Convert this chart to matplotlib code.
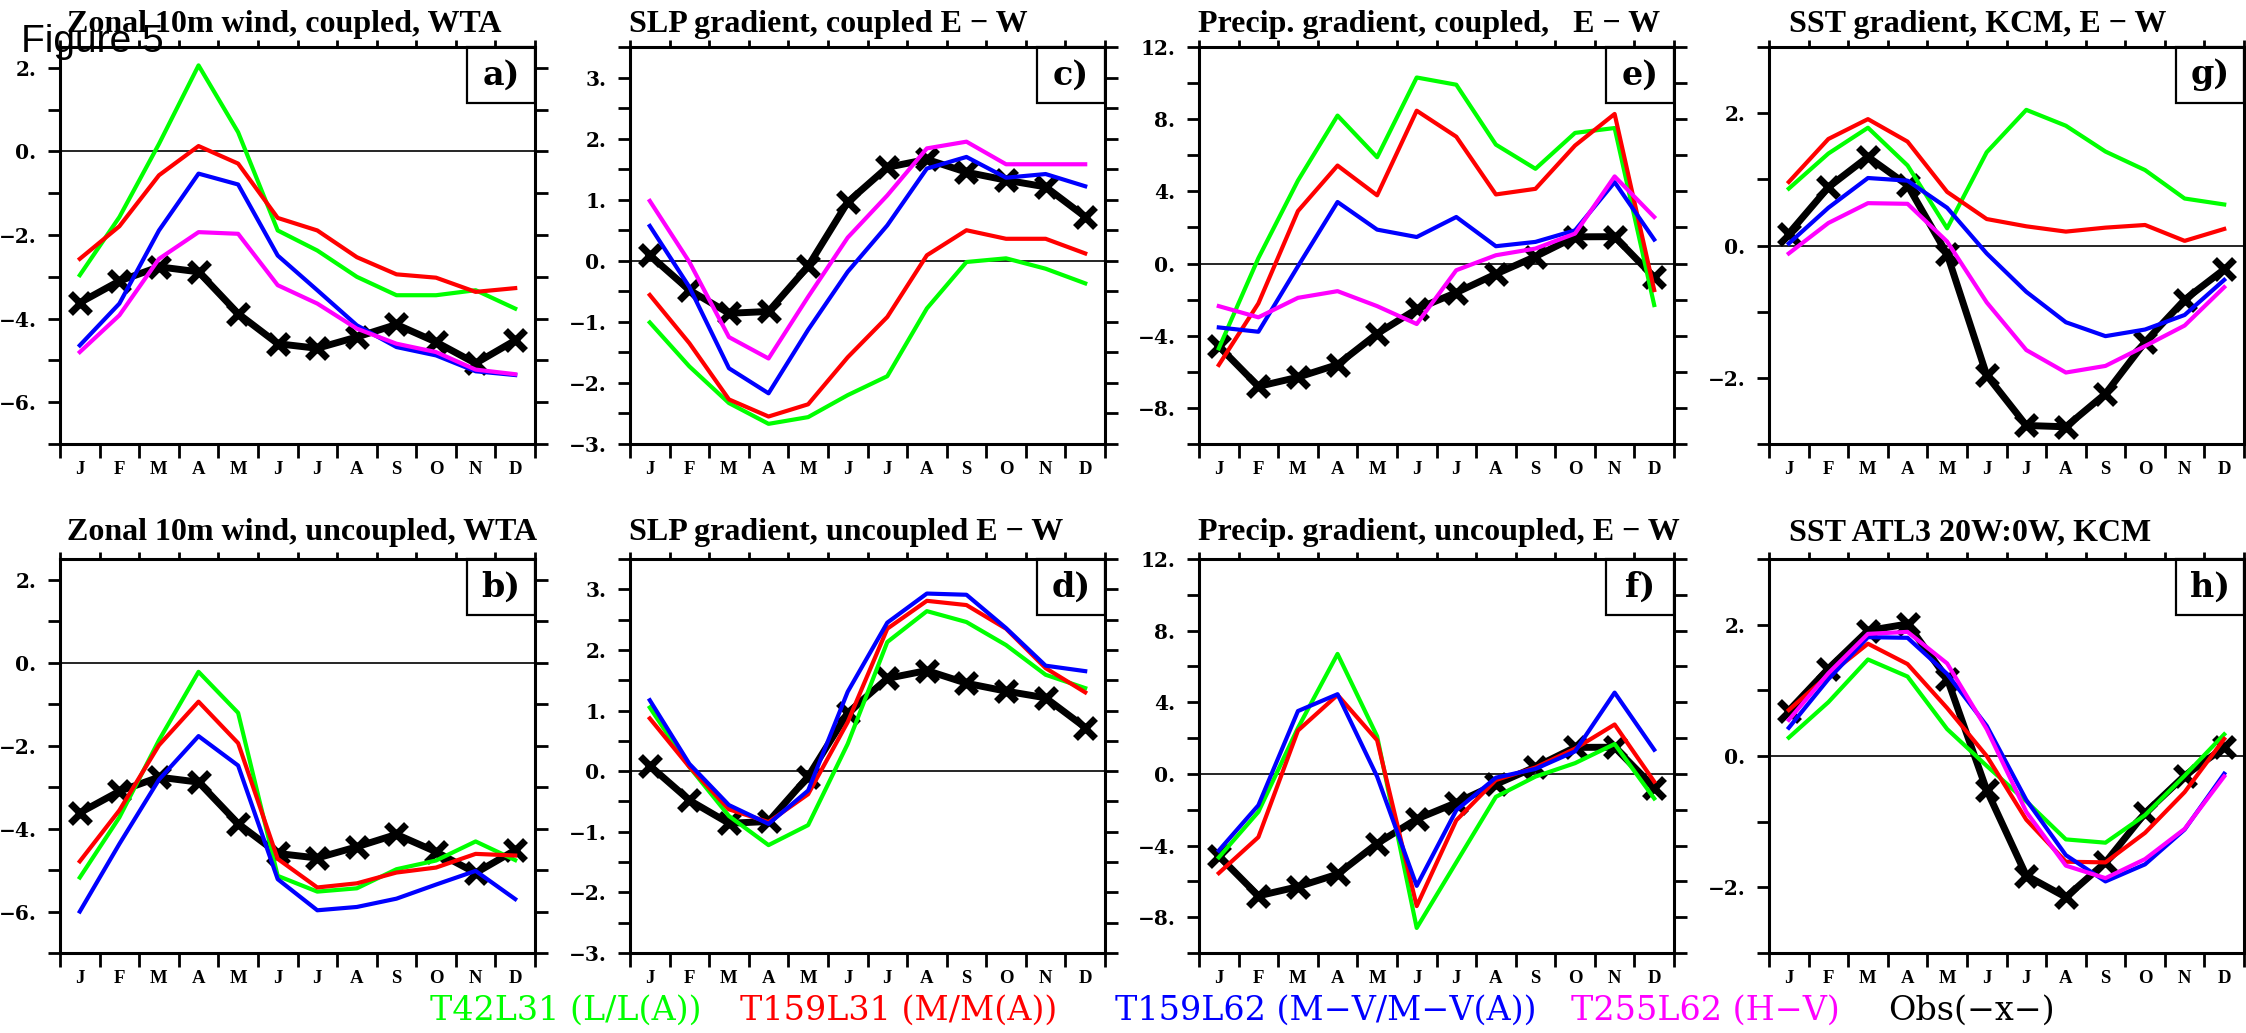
import matplotlib
matplotlib.use("Agg")
import matplotlib.pyplot as plt
import numpy as np
from matplotlib.patches import Rectangle

# === DATA ===
months = ['J', 'F', 'M', 'A', 'M', 'J', 'J', 'A', 'S', 'O', 'N', 'D']

# observations (black, -x-)
obs_wind = [-3.62, -3.10, -2.76, -2.88, -3.88, -4.60, -4.71, -4.44, -4.14, -4.56, -5.07, -4.52]
obs_slp = [0.09, -0.48, -0.86, -0.83, -0.09, 0.96, 1.53, 1.66, 1.45, 1.32, 1.21, 0.72]
obs_precip = [-4.58, -6.81, -6.30, -5.60, -3.89, -2.52, -1.61, -0.58, 0.39, 1.48, 1.49, -0.76]
obs_sst_grad = [0.18, 0.88, 1.34, 0.91, -0.13, -1.96, -2.72, -2.74, -2.24, -1.46, -0.82, -0.36]
obs_atl3 = [0.69, 1.33, 1.91, 2.01, 1.18, -0.52, -1.82, -2.15, -1.62, -0.87, -0.30, 0.13]

# a) zonal 10m wind, coupled
a_green = [-2.96, -1.57, 0.18, 2.06, 0.46, -1.89, -2.37, -3.00, -3.44, -3.44, -3.32, -3.76]
a_red = [-2.57, -1.79, -0.57, 0.13, -0.29, -1.59, -1.89, -2.53, -2.94, -3.02, -3.36, -3.27]
a_blue = [-4.64, -3.64, -1.89, -0.53, -0.79, -2.49, -3.32, -4.16, -4.68, -4.88, -5.26, -5.35]
a_magenta = [-4.80, -3.92, -2.57, -1.93, -1.97, -3.20, -3.64, -4.24, -4.60, -4.80, -5.22, -5.33]

# b) zonal 10m wind, uncoupled
b_green = [-5.18, -3.73, -1.87, -0.22, -1.21, -5.14, -5.52, -5.44, -4.98, -4.77, -4.31, -4.76]
b_red = [-4.79, -3.56, -1.99, -0.94, -1.94, -4.73, -5.42, -5.32, -5.06, -4.94, -4.61, -4.65]
b_blue = [-6.00, -4.37, -2.82, -1.77, -2.48, -5.22, -5.97, -5.89, -5.69, -5.35, -5.02, -5.70]

# c) SLP gradient, coupled
c_green = [-1.01, -1.73, -2.33, -2.67, -2.56, -2.20, -1.89, -0.78, -0.02, 0.04, -0.13, -0.37]
c_red = [-0.56, -1.35, -2.27, -2.55, -2.35, -1.58, -0.92, 0.09, 0.50, 0.36, 0.36, 0.12]
c_blue = [0.57, -0.43, -1.76, -2.17, -1.13, -0.18, 0.58, 1.51, 1.70, 1.36, 1.42, 1.22]
c_magenta = [0.98, -0.02, -1.25, -1.60, -0.59, 0.38, 1.07, 1.84, 1.95, 1.58, 1.58, 1.58]

# d) SLP gradient, uncoupled
d_green = [1.05, 0.07, -0.74, -1.22, -0.89, 0.45, 2.13, 2.64, 2.46, 2.08, 1.59, 1.37]
d_red = [0.87, 0.07, -0.63, -0.84, -0.38, 0.81, 2.35, 2.81, 2.74, 2.35, 1.70, 1.30]
d_blue = [1.17, 0.12, -0.56, -0.87, -0.32, 1.31, 2.45, 2.93, 2.91, 2.36, 1.74, 1.65]

# e) precip gradient, coupled
e_green = [-4.70, 0.30, 4.60, 8.20, 5.89, 10.31, 9.91, 6.59, 5.25, 7.24, 7.51, -2.30]
e_red = [-5.62, -2.21, 2.91, 5.43, 3.78, 8.47, 7.03, 3.83, 4.14, 6.54, 8.29, -1.47]
e_blue = [-3.54, -3.78, -0.15, 3.41, 1.88, 1.47, 2.58, 0.96, 1.20, 1.84, 4.51, 1.33]
e_magenta = [-2.36, -2.98, -1.90, -1.53, -2.36, -3.35, -0.37, 0.46, 0.83, 1.66, 4.83, 2.58]

# f) precip gradient, uncoupled
f_green = [-4.66, -2.12, 2.57, 6.70, 2.10, -8.60, -4.94, -1.28, -0.15, 0.60, 1.67, -1.37]
f_red = [-5.54, -3.53, 2.42, 4.41, 1.88, -7.38, -2.59, -0.34, 0.36, 1.41, 2.76, -0.43]
f_blue = [-4.28, -1.75, 3.51, 4.45, -0.15, -6.25, -2.03, -0.21, 0.28, 1.26, 4.54, 1.35]

# g) SST gradient, KCM
g_green = [0.86, 1.39, 1.78, 1.21, 0.26, 1.41, 2.05, 1.81, 1.42, 1.14, 0.71, 0.62]
g_red = [0.96, 1.61, 1.91, 1.57, 0.81, 0.40, 0.29, 0.21, 0.27, 0.31, 0.07, 0.25]
g_blue = [0.03, 0.57, 1.02, 0.98, 0.57, -0.12, -0.70, -1.16, -1.37, -1.27, -1.05, -0.52]
g_magenta = [-0.12, 0.34, 0.64, 0.63, 0.06, -0.86, -1.58, -1.92, -1.82, -1.52, -1.21, -0.63]

# h) SST ATL3, KCM
h_green = [0.28, 0.82, 1.47, 1.21, 0.41, -0.15, -0.69, -1.27, -1.32, -0.90, -0.30, 0.33]
h_red = [0.70, 1.23, 1.71, 1.40, 0.73, 0.00, -0.97, -1.61, -1.62, -1.17, -0.55, 0.26]
h_blue = [0.43, 1.17, 1.81, 1.80, 1.25, 0.46, -0.67, -1.51, -1.91, -1.65, -1.12, -0.27]
h_magenta = [0.55, 1.26, 1.86, 1.89, 1.41, 0.41, -0.85, -1.67, -1.86, -1.57, -1.11, -0.31]

legend_labels = ['T42L31 (L/L(A))', 'T159L31 (M/M(A))', 'T159L62 (M\u2212V/M\u2212V(A))',
                 'T255L62 (H\u2212V)', 'Obs(\u2212x\u2212)']

# === STYLE ===
GREEN, RED, BLUE, MAGENTA = '#00ff00', '#ff0000', '#0000ff', '#ff00ff'
SERIF = 'Liberation Serif'
W, H = 2246, 1033
col_left = [60, 630, 1199, 1769]
ax_w = 475
row_top = [47, 559]
row_bot = [444, 953]

fig = plt.figure(figsize=(W / 100, H / 100), dpi=100)
x = np.arange(12) + 0.5

# y axis setups: (ylim, tick step, label step)
yspec = {
    'wind': ((-7, 2.5), 1, 2),
    'slp': ((-3, 3.5), 0.5, 1),
    'precip': ((-10, 12), 2, 4),
    'sst': ((-3, 3), 1, 2),
}

panels = [
    # col, row, kind, title, title x-offset px, label, obs, [(series, colour)]
    (0, 0, 'wind', 'Zonal 10m wind, coupled, WTA', 7, 'a)', obs_wind,
     [(a_green, GREEN), (a_red, RED), (a_blue, BLUE), (a_magenta, MAGENTA)]),
    (0, 1, 'wind', 'Zonal 10m wind, uncoupled, WTA', 7, 'b)', obs_wind,
     [(b_green, GREEN), (b_red, RED), (b_blue, BLUE)]),
    (1, 0, 'slp', 'SLP gradient, coupled E \u2212 W', -1, 'c)', obs_slp,
     [(c_green, GREEN), (c_red, RED), (c_blue, BLUE), (c_magenta, MAGENTA)]),
    (1, 1, 'slp', 'SLP gradient, uncoupled E \u2212 W', -1, 'd)', obs_slp,
     [(d_green, GREEN), (d_red, RED), (d_blue, BLUE)]),
    (2, 0, 'precip', 'Precip. gradient, coupled,   E \u2212 W', -1, 'e)', obs_precip,
     [(e_green, GREEN), (e_red, RED), (e_blue, BLUE), (e_magenta, MAGENTA)]),
    (2, 1, 'precip', 'Precip. gradient, uncoupled, E \u2212 W', -1, 'f)', obs_precip,
     [(f_green, GREEN), (f_red, RED), (f_blue, BLUE)]),
    (3, 0, 'sst', 'SST gradient, KCM, E \u2212 W', 20, 'g)', obs_sst_grad,
     [(g_green, GREEN), (g_red, RED), (g_blue, BLUE), (g_magenta, MAGENTA)]),
    (3, 1, 'sst', 'SST ATL3 20W:0W, KCM', 20, 'h)', obs_atl3,
     [(h_green, GREEN), (h_red, RED), (h_blue, BLUE), (h_magenta, MAGENTA)]),
]

for col, row, kind, title, tdx, label, obs, series in panels:
    ax_h = row_bot[row] - row_top[row]
    ax = fig.add_axes([col_left[col] / W, 1 - row_bot[row] / H, ax_w / W, ax_h / H])

    ax.axhline(0, color='black', lw=1.2, zorder=2)
    ax.plot(x, obs, color='black', lw=5, marker='x', ms=14, mew=5, zorder=3)
    for vals, c in series:
        ax.plot(x, vals, color=c, lw=3.0, zorder=4)

    (y0, y1), step, lstep = yspec[kind]
    ax.set_xlim(0, 12)
    ax.set_ylim(y0, y1)
    yt = np.arange(y0, y1 + step / 2, step)
    ylab = []
    for v in yt:
        if abs(v / lstep - round(v / lstep)) < 1e-6:
            s = f"{int(round(v))}."
            ylab.append(s.replace('-', '\u2212'))
        else:
            ylab.append('')
    ax.set_yticks(yt)
    ax.set_yticklabels(ylab, fontsize=14.5, fontweight='bold', family='DejaVu Serif')

    ax.set_xticks(np.arange(13))
    ax.set_xticklabels([])
    ax.set_xticks(x, minor=True)
    ax.set_xticklabels(months, minor=True, fontsize=13.5, fontweight='bold', family=SERIF)
    ax.tick_params(axis='x', which='major', direction='out', length=10, width=2,
                   top=True, bottom=True)
    ax.tick_params(axis='x', which='minor', length=0, pad=12)
    ax.tick_params(axis='y', which='major', direction='out', length=9, width=2,
                   left=True, right=True, pad=8)
    for sp in ax.spines.values():
        sp.set_linewidth(2.2)
    for t in ax.xaxis.get_major_ticks():
        t.tick2line.set_markersize(5)

    # title
    ax.text(tdx / ax_w, 1 + (15 if row == 0 else 19) / ax_h, title, transform=ax.transAxes,
            fontsize=23, fontweight='bold', family=SERIF, va='baseline', ha='left')

    # panel label box
    bw, bh = 68 / ax_w, 56 / ax_h
    ax.add_patch(Rectangle((1 - bw, 1 - bh), bw, bh, transform=ax.transAxes,
                           fill=False, lw=1.6, edgecolor='black', zorder=6, clip_on=False))
    ax.text(1 - bw / 2, 1 - bh / 2, label, transform=ax.transAxes, ha='center', va='center',
            fontsize=24, fontweight='bold', family='DejaVu Serif', zorder=7)

fig.text(21 / W, 1 - 52 / H, 'Figure 5', fontsize=28, family='Liberation Sans',
         va='baseline', ha='left', zorder=10)

# legend line along the bottom
legend_colors = [GREEN, RED, BLUE, MAGENTA, 'black']
legend_x = [702, 740, 1115, 1571, 1888]   # first entry is right-aligned
for i, (lab, c) in enumerate(zip(legend_labels, legend_colors)):
    fig.text(legend_x[i] / W, 1 - 1020 / H, lab, color=c, fontsize=24, family='DejaVu Serif',
             va='baseline', ha='right' if i == 0 else 'left')

fig.savefig('out.png', dpi=100)
